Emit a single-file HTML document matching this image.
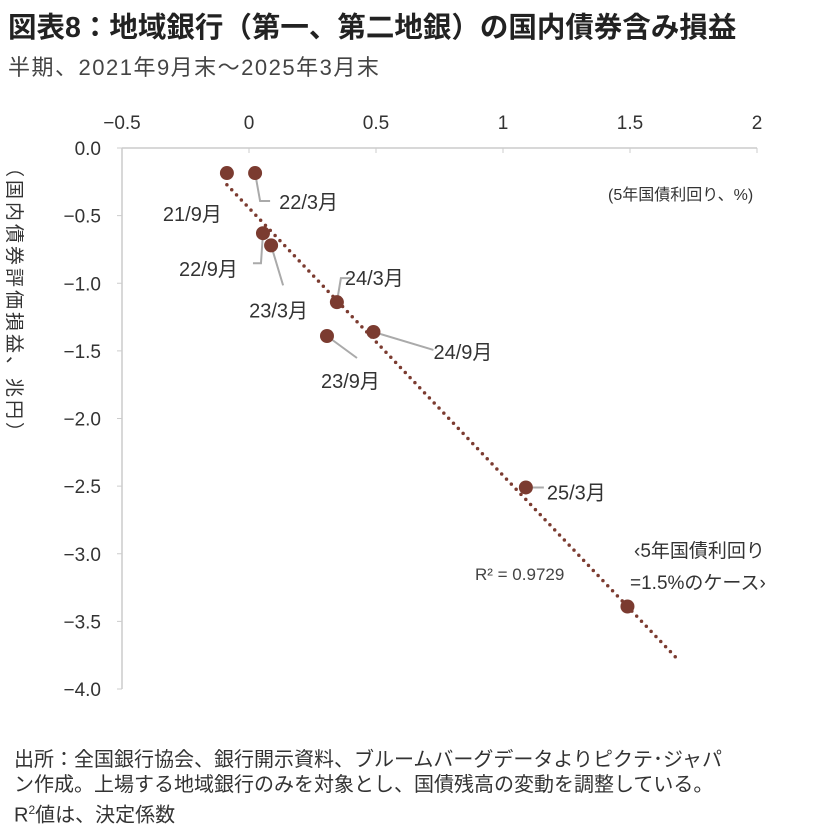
<!DOCTYPE html>
<html><head><meta charset="utf-8"><style>
body{margin:0;background:#fff;width:817px;height:831px;overflow:hidden;font-family:"Liberation Sans","Noto Sans CJK JP",sans-serif;color:#333}
.t{position:absolute;white-space:nowrap}
</style></head><body>
<div class="t" style="left:8px;top:5px;font-size:28.5px;font-weight:bold;color:#222">図表8：地域銀行（第一、第二地銀）の国内債券含み損益</div>
<div class="t" style="left:8px;top:50px;font-size:22px;letter-spacing:1.5px;color:#444">半期、2021年9月末～2025年3月末</div>
<svg id="c" width="817" height="831" style="position:absolute;left:0;top:0"></svg>
<div class="t" style="left:14px;top:748px;font-size:20px;line-height:25px;color:#333">出所：全国銀行協会、銀行開示資料、ブルームバーグデータよりピクテ･ジャパ<br>ン作成。上場する地域銀行のみを対象とし、国債残高の変動を調整している。<br>R<sup style="font-size:12px">2</sup>値は、決定係数</div>
<script>
const labels=["21/9月","22/3月","22/9月","23/3月","23/9月","24/3月","24/9月","25/3月","case"];
const xVals=[-0.087,0.024,0.055,0.087,0.307,0.346,0.49,1.09,1.49];
const yVals=[-0.185,-0.185,-0.63,-0.72,-1.39,-1.14,-1.36,-2.51,-3.39];
const xTicks=[-0.5,0,0.5,1,1.5,2];
const yTicks=[0,-0.5,-1,-1.5,-2,-2.5,-3,-3.5,-4];
const NS="http://www.w3.org/2000/svg";
const svg=document.getElementById('c');
const X=v=>249+v*254, Y=v=>148-v*135.25;
function el(t,a,txt){const e=document.createElementNS(NS,t);for(const k in a)e.setAttribute(k,a[k]);if(txt!=null)e.textContent=txt;svg.appendChild(e);return e;}
let e;
e=el('line',{x1:122,y1:148,x2:757,y2:148,stroke:'#ccc','stroke-width':1.5});


e=el('line',{x1:122,y1:148,x2:122,y2:689,stroke:'#ccc','stroke-width':1.5});


xTicks.forEach(v=>{
 e=el('line',{x1:X(v),y1:148,x2:X(v),y2:153,stroke:'#ccc'});
 
 
 e=el('text',{x:X(v),y:129,'text-anchor':'middle','font-size':19,fill:'#333'},v===0?'0':String(v).replace('-','−'));
 
 
});
yTicks.forEach(v=>{
 e=el('line',{x1:117,y1:Y(v),x2:122,y2:Y(v),stroke:'#ccc'});
 
 
 e=el('text',{x:101,y:Y(v)+7,'text-anchor':'end','font-size':19,fill:'#333'},(v===0?'0.0':v.toFixed(1)).replace('-','−'));
 
 
});
const n=xVals.length,mx=xVals.reduce((a,b)=>a+b)/n,my=yVals.reduce((a,b)=>a+b)/n;
let sxy=0,sxx=0;for(let i=0;i<n;i++){sxy+=(xVals[i]-mx)*(yVals[i]-my);sxx+=(xVals[i]-mx)**2;}
const b=sxy/sxx,a=my-b*mx,x0=Math.min(...xVals),x1=1.69;
e=el('line',{x1:X(x0),y1:Y(a+b*x0),x2:X(x1),y2:Y(a+b*x1),stroke:'#7b3b30','stroke-width':3.5,'stroke-dasharray':'0 7','stroke-linecap':'round'});


const lab=[[null,"21/9月",-64,48],[[[0,0],[5,28],[15,28]],"22/3月",24,36],[[[0,0],[-2,30],[-10,30]],"22/9月",-84,43],[[[0,0],[12,40]],"23/3月",-22,72],[[[0,0],[30,22]],"23/9月",-6,52],[[[0,0],[4,-24],[14,-24]],"24/3月",8,-17],[[[0,0],[60,18]],"24/9月",60,27],[[[0,0],[18,0]],"25/3月",21,12]];
lab.forEach((L,i)=>{
 const px=X(xVals[i]),py=Y(yVals[i]);
 if(L[0]){e=el('polyline',{points:L[0].map(p=>(px+p[0])+','+(py+p[1])).join(' '),fill:'none',stroke:'#aaa','stroke-width':2});
 
 }
 e=el('text',{x:px+L[2],y:py+L[3],'font-size':20,fill:'#333'},L[1]);
 
 
});
xVals.forEach((v,i)=>{
 e=el('circle',{cx:X(v),cy:Y(yVals[i]),r:7,fill:'#7b3b30'});
 
 
});
e=el('text',{x:608,y:200,'font-size':16,fill:'#333'},'(5年国債利回り、%)');


e=el('text',{x:475,y:580,'font-size':17,fill:'#444'},'R² = 0.9729');


e=el('text',{x:634,y:557,'font-size':19,fill:'#333'},'‹5年国債利回り');


e=el('text',{x:630,y:589,'font-size':19,fill:'#333'},'=1.5%のケース›');


e=el('text',{x:0,y:0,'font-size':19,fill:'#333','letter-spacing':3,transform:'translate(8,158) rotate(90)'},'（国内債券評価損益、兆円）');


</script>
</body></html>
